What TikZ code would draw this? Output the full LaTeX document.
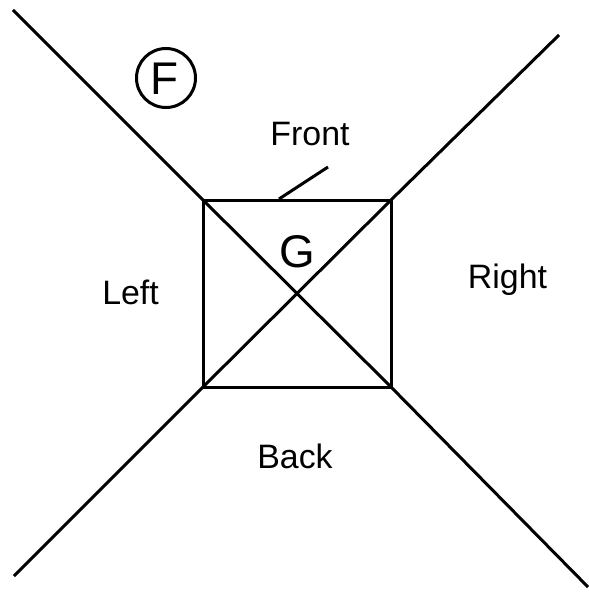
\documentclass[tikz,border=0pt]{standalone}
\usepackage{fontspec}
\setmainfont{Liberation Sans}
\begin{document}
\begin{tikzpicture}[x=1bp,y=-1bp,
  ln/.style={line width=3bp,line cap=butt},
  lbl/.style={inner sep=0pt,anchor=base,font=\fontsize{34}{40}\selectfont},
  big/.style={inner sep=0pt,anchor=base,font=\fontsize{46}{55}\selectfont}]
\useasboundingbox (0,0) rectangle (589,595);
% corners of the square
\coordinate (tl) at (203,200);
\coordinate (tr) at (391,200);
\coordinate (br) at (391,387);
\coordinate (bl) at (203,387);
% free ends of the crossing lines
\coordinate (e1) at (13,10);
\coordinate (e2) at (588,587);
\coordinate (e3) at (559,35);
\coordinate (e4) at (14,576);
\draw[ln] (e1) -- (tl) -- (br) -- (e2);
\draw[ln] (e3) -- (tr) -- (bl) -- (e4);
\draw[ln,line join=miter] (tl) -- (tr) -- (br) -- (bl) -- cycle;
% front marker
\coordinate (fm1) at (279,199);
\coordinate (fm2) at (328,167);
\draw[ln] (fm1) -- (fm2);
% labels
\node[lbl] (front) at (310,146) {Front};
\node[lbl] (left) at (130.5,304) {Left};
\node[lbl] (right) at (507.5,288) {Right};
\node[lbl] (back) at (295,468) {Back};
\node[big] (g) at (297.5,267) {G};
\node[draw,line width=3bp,circle,minimum size=59bp,inner sep=0pt] (fc) at (166,78) {};
\node[big] (f) at (164,95) {F};
\end{tikzpicture}
\end{document}
